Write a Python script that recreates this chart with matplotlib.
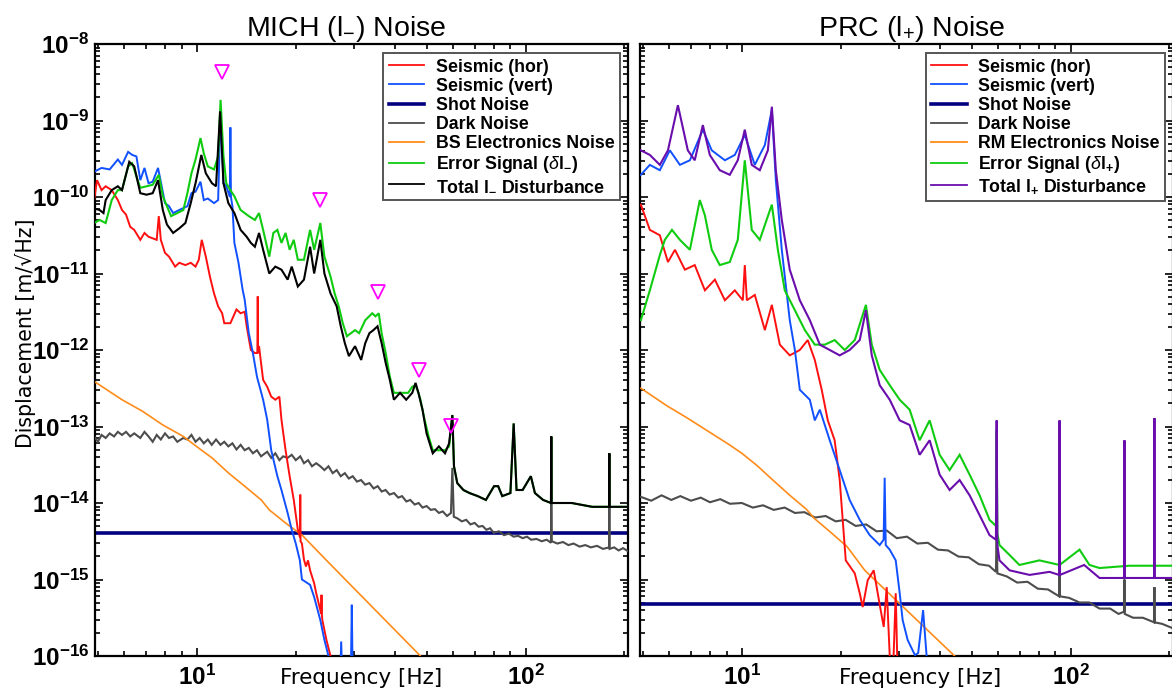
import numpy as np
import matplotlib
matplotlib.use("Agg")
import matplotlib.pyplot as plt
from matplotlib.lines import Line2D
from matplotlib.ticker import LogLocator, NullFormatter, FixedLocator, FixedFormatter

plt.rcParams['mathtext.fontset'] = 'custom'
plt.rcParams['mathtext.rm'] = 'Liberation Sans'
plt.rcParams['mathtext.bf'] = 'Liberation Sans:bold'
plt.rcParams['mathtext.it'] = 'Liberation Sans:italic'

# ---------------- data: (frequency [Hz], log10 displacement [m/rtHz]) ----------------
XLIM = (4.9, 205.0)
YLIM = (1e-16, 1e-8)
YTICK_EXP = [-16, -15, -14, -13, -12, -11, -10, -9, -8]
XTICK_VALS = [10, 100]
XTICK_LABELS = [r'$\mathbf{10^{1}}$', r'$\mathbf{10^{2}}$']

# ---- MICH panel ----
L_HOR = [(4.87, -10.04), (4.97, -9.78), (5.13, -9.91), (5.28, -9.86), (5.51, -9.91), (5.75, -10.04),
         (5.92, -10.17), (6.09, -10.23), (6.27, -10.39), (6.45, -10.43), (6.73, -10.56), (6.93, -10.47),
         (7.13, -10.52), (7.34, -10.54), (7.55, -10.56), (7.66, -10.25), (7.77, -10.56), (8.00, -10.73),
         (8.23, -10.78), (8.59, -10.91), (8.84, -10.86), (9.23, -10.89), (9.58, -10.86), (9.91, -10.91),
         (10.14, -10.82), (10.35, -10.56), (10.65, -10.78), (10.96, -11.04), (11.28, -11.26), (11.61, -11.43),
         (11.94, -11.52), (12.12, -11.65), (12.65, -11.65), (13.20, -11.47), (13.59, -11.52), (13.98, -11.50),
         (14.18, -11.69), (14.60, -12.00), (15.02, -12.04), (15.28, -12.04), (15.32, -11.30), (15.36, -12.04),
         (15.46, -11.95), (15.91, -12.39), (16.37, -12.48), (16.84, -12.61), (17.33, -12.65), (17.83, -12.61),
         (18.09, -12.91), (18.62, -13.31), (19.16, -13.65), (19.72, -13.96), (20.29, -14.35), (20.60, -14.45),
         (20.64, -13.89), (20.68, -14.50), (20.88, -14.53), (21.18, -14.74), (21.48, -14.83), (21.79, -14.75),
         (22.11, -14.88), (22.75, -15.05), (23.08, -15.18), (23.90, -15.45), (23.95, -15.20), (24.00, -15.45),
         (24.09, -15.53), (24.79, -15.79), (25.51, -16.0), (25.80, -16.3)]

L_VERT = [(4.87, -9.67), (5.13, -9.62), (5.43, -9.64), (5.75, -9.51), (5.92, -9.58), (6.18, -9.41),
          (6.36, -9.45), (6.55, -9.47), (6.73, -9.78), (6.93, -9.62), (7.13, -9.82), (7.34, -9.80),
          (7.62, -9.62), (7.77, -9.80), (8.00, -10.08), (8.23, -10.12), (8.47, -10.21), (8.84, -10.17),
          (9.36, -10.12), (9.63, -9.95), (9.91, -9.93), (10.26, -9.80), (10.50, -10.04), (10.80, -10.02),
          (11.28, -10.08), (11.61, -10.04), (11.81, -8.87), (12.05, -9.82), (12.29, -9.86), (12.60, -10.0),
          (12.65, -9.09), (12.70, -10.0), (12.83, -10.12), (13.01, -10.60), (13.39, -10.86), (13.78, -11.21),
          (13.98, -11.34), (14.39, -11.78), (14.81, -12.04), (15.24, -12.35), (15.91, -12.65), (16.37, -12.91),
          (16.84, -13.31), (17.58, -13.65), (18.09, -13.83), (18.89, -14.13), (19.44, -14.35), (20.00, -14.53),
          (20.58, -14.75), (20.88, -15.0), (22.11, -15.07), (22.75, -15.23), (23.75, -15.53), (24.44, -15.79),
          (25.15, -16.0), (25.51, -16.3), (27.3, -16.3), (27.49, -15.81), (27.7, -16.3), (29.4, -16.3),
          (29.61, -15.33), (29.8, -16.3)]

L_SHOT = 4.0e-15

L_DARK = [(4.87, -13.13), (5.0, -13.20), (5.13, -13.11), (5.28, -13.15), (5.43, -13.09), (5.6, -13.13),
          (5.75, -13.07), (5.92, -13.11), (6.09, -13.07), (6.27, -13.13), (6.45, -13.09), (6.73, -13.15),
          (6.93, -13.07), (7.13, -13.13), (7.34, -13.20), (7.55, -13.11), (7.77, -13.17), (8.00, -13.09),
          (8.23, -13.15), (8.47, -13.13), (8.72, -13.20), (9.10, -13.15), (9.36, -13.17), (9.63, -13.11),
          (9.91, -13.20), (10.2, -13.15), (10.5, -13.22), (10.8, -13.17), (11.1, -13.24), (11.44, -13.17),
          (11.8, -13.24), (12.12, -13.20), (12.47, -13.26), (12.83, -13.22), (13.2, -13.30), (13.59, -13.24),
          (13.98, -13.31), (14.39, -13.28), (14.81, -13.35), (15.24, -13.31), (15.68, -13.39), (16.37, -13.33),
          (16.84, -13.41), (17.33, -13.35), (17.83, -13.44), (18.3, -13.39), (18.89, -13.41), (19.44, -13.37),
          (20.0, -13.44), (20.64, -13.39), (21.18, -13.48), (21.8, -13.44), (22.4, -13.52), (23.08, -13.48),
          (23.75, -13.52), (24.44, -13.57), (25.15, -13.52), (25.9, -13.61), (26.64, -13.57), (27.4, -13.65),
          (28.2, -13.61), (29.0, -13.68), (29.8, -13.65), (30.7, -13.72), (31.6, -13.70), (32.5, -13.76),
          (33.5, -13.74), (34.5, -13.81), (35.5, -13.78), (36.5, -13.85), (37.5, -13.83), (38.6, -13.89),
          (39.8, -13.87), (41.0, -13.93), (42.1, -13.91), (43.4, -13.98), (44.6, -13.96), (46.0, -14.02),
          (47.3, -14.00), (48.6, -14.06), (50.0, -14.04), (51.5, -14.09), (53.0, -14.08), (54.5, -14.13),
          (56.0, -14.11), (57.7, -14.17), (59.3, -14.13), (59.9, -13.54), (60.5, -14.18), (62.0, -14.20),
          (64.0, -14.24), (66.0, -14.22), (68.0, -14.28), (70.0, -14.26), (72.0, -14.31), (74.0, -14.30),
          (76.0, -14.35), (78.0, -14.33), (80.0, -14.39), (83.0, -14.37), (86.0, -14.42), (89.0, -14.40),
          (92.0, -14.44), (95.0, -14.43), (98.0, -14.46), (101, -14.44), (104, -14.48), (108, -14.47),
          (112, -14.50), (116, -14.48), (119.5, -14.52), (119.8, -14.0), (120.2, -14.50), (125, -14.53),
          (130, -14.51), (135, -14.55), (140, -14.53), (146, -14.57), (152, -14.55), (158, -14.58),
          (165, -14.56), (172, -14.60), (179.5, -14.58), (179.9, -14.05), (180.3, -14.60), (186, -14.58),
          (192, -14.62), (198, -14.59), (205, -14.63)]

L_ELEC = [(4.87, -12.41), (5.92, -12.65), (6.83, -12.80), (7.88, -12.98), (9.10, -13.13), (9.97, -13.26),
          (11.12, -13.41), (12.5, -13.61), (13.98, -13.78), (15.7, -13.96), (16.61, -14.09), (18.6, -14.26),
          (20.9, -14.42), (24.8, -14.75), (47.9, -16.0), (52.0, -16.2)]

L_ERR = [(4.87, -10.34), (5.06, -10.30), (5.28, -10.34), (5.51, -10.04), (5.75, -9.91), (5.92, -9.91),
         (6.18, -9.60), (6.36, -9.56), (6.55, -9.73), (6.73, -9.88), (7.03, -9.86), (7.34, -9.84),
         (7.66, -9.71), (7.88, -9.99), (8.11, -10.12), (8.35, -10.25), (8.72, -10.21), (9.10, -10.17),
         (9.36, -9.95), (9.63, -9.69), (9.91, -9.51), (10.26, -9.23), (10.50, -9.43), (10.80, -9.60),
         (11.28, -9.64), (11.61, -9.47), (11.81, -8.73), (12.05, -9.47), (12.29, -9.82), (12.65, -9.91),
         (13.01, -9.99), (13.59, -10.17), (14.39, -10.25), (15.02, -10.30), (15.46, -10.21), (15.91, -10.43),
         (16.61, -10.78), (17.09, -10.47), (17.58, -10.43), (18.09, -10.60), (18.62, -10.47), (19.16, -10.69),
         (19.72, -10.56), (20.29, -10.82), (21.18, -10.82), (22.11, -10.43), (22.75, -10.69), (23.75, -10.34),
         (24.44, -10.78), (25.51, -11.04), (26.26, -11.26), (27.02, -11.43), (27.80, -11.65), (28.61, -11.82),
         (29.44, -11.78), (30.29, -11.74), (31.18, -11.78), (32.54, -11.61), (34.17, -11.52), (34.96, -11.56),
         (35.77, -11.52), (36.49, -11.78), (37.55, -12.04), (38.65, -12.35), (39.77, -12.56), (40.93, -12.56),
         (42.12, -12.56), (43.95, -12.56), (45.23, -12.48), (46.28, -12.46), (47.22, -12.56), (47.90, -12.65),
         (49.29, -12.91), (50.72, -13.13), (52.21, -13.31), (54.50, -13.31), (56.89, -13.31), (58.54, -13.26),
         (59.90, -12.85), (60.58, -13.52), (61.99, -13.74), (64.71, -13.83), (67.55, -13.87), (71.54, -13.91),
         (75.76, -13.96), (80.22, -13.78), (82.55, -13.78), (84.95, -13.91), (89.95, -13.87), (92.03, -12.96),
         (93.89, -13.83), (98.0, -13.83), (103.8, -13.65), (106.8, -13.87), (113.1, -13.96), (119.5, -14.0),
         (119.8, -13.13), (120.1, -14.0), (123.3, -14.00), (138.2, -14.00), (159.5, -14.05), (179.6, -14.05),
         (179.9, -13.35), (180.2, -14.05), (184.1, -14.05), (205.0, -14.05)]

L_TOT = [(4.87, -10.15), (5.06, -10.17), (5.20, -10.21), (5.28, -10.04), (5.51, -9.91), (5.75, -9.86),
         (5.92, -9.91), (6.23, -9.54), (6.45, -9.60), (6.73, -9.95), (7.03, -9.97), (7.34, -9.95),
         (7.62, -9.78), (7.88, -10.17), (8.11, -10.36), (8.47, -10.47), (8.84, -10.41), (9.23, -10.34),
         (9.58, -10.08), (9.91, -9.82), (10.32, -9.45), (10.65, -9.69), (11.12, -9.82), (11.44, -9.86),
         (11.77, -8.88), (12.05, -9.82), (12.47, -10.08), (13.01, -10.21), (13.59, -10.43), (14.18, -10.52),
         (14.60, -10.60), (15.02, -10.65), (15.46, -10.47), (15.91, -10.69), (16.61, -11.00), (17.33, -10.91),
         (18.09, -10.95), (18.89, -11.08), (19.44, -10.91), (20.29, -11.17), (21.18, -11.08), (22.11, -10.65),
         (22.75, -11.00), (23.75, -10.56), (24.44, -11.00), (25.51, -11.26), (26.64, -11.43), (27.41, -11.69),
         (28.20, -11.91), (29.02, -12.08), (30.29, -11.95), (31.62, -12.13), (32.54, -11.91), (33.50, -11.78),
         (34.46, -11.74), (35.46, -11.69), (36.49, -11.91), (37.55, -12.17), (38.65, -12.39), (39.77, -12.65),
         (41.52, -12.56), (43.35, -12.65), (45.23, -12.56), (46.28, -12.43), (47.22, -12.56), (48.59, -12.78),
         (50.0, -13.09), (52.21, -13.35), (54.50, -13.26), (56.89, -13.35), (58.54, -13.22), (59.90, -12.85),
         (60.58, -13.52), (61.99, -13.74), (64.71, -13.83), (67.55, -13.87), (71.54, -13.91), (75.76, -13.96),
         (80.22, -13.78), (82.55, -13.78), (84.95, -13.91), (89.95, -13.87), (92.03, -12.96), (93.89, -13.83),
         (98.0, -13.83), (103.8, -13.65), (106.8, -13.87), (113.1, -13.96), (119.5, -14.0), (119.8, -13.13),
         (120.1, -14.0), (123.3, -14.00), (138.2, -14.00), (159.5, -14.05), (179.6, -14.05), (179.9, -13.35),
         (180.2, -14.05), (184.1, -14.05), (205.0, -14.05)]

L_MARK_F = [11.9, 23.7, 35.6, 47.5, 59.4]
L_MARK_V = [4.3e-9, 9.1e-11, 5.7e-12, 5.5e-13, 1.02e-13]

# ---- PRC panel ----
R_HOR = [(4.93, -10.10), (5.25, -10.43), (5.63, -10.50), (5.96, -10.85), (6.26, -10.69), (6.71, -10.95),
         (7.19, -10.89), (7.72, -11.22), (8.28, -11.08), (8.88, -11.35), (9.52, -11.22), (10.07, -11.35),
         (10.21, -10.89), (10.36, -11.35), (10.95, -11.28), (11.75, -11.74), (12.34, -11.41), (13.05, -11.93),
         (13.99, -12.07), (15.01, -12.00), (15.87, -11.87), (16.67, -12.13), (17.5, -12.52), (18.26, -12.92),
         (19.16, -13.18), (19.85, -13.70), (20.71, -14.75), (22.06, -14.92), (22.84, -15.18), (23.32, -15.36),
         (24.15, -15.01), (25.19, -14.88), (26.45, -15.40), (27.02, -15.62), (27.59, -15.10), (28.18, -16.0),
         (28.8, -16.3), (29.39, -15.18), (29.8, -16.3)]

R_VERT = [(4.93, -9.71), (5.25, -9.58), (5.63, -9.65), (6.04, -9.39), (6.48, -9.58), (6.95, -9.52),
          (7.61, -9.12), (8.1, -9.39), (8.88, -9.52), (9.52, -9.45), (10.21, -9.19), (10.95, -9.58),
          (11.75, -9.32), (12.34, -8.86), (12.69, -9.78), (13.23, -10.69), (13.99, -11.61), (14.5, -12.00),
          (15.01, -12.52), (16.1, -12.65), (16.67, -12.92), (17.27, -12.78), (18.51, -13.18), (19.85, -13.57),
          (21.28, -13.96), (22.84, -14.22), (24.49, -14.42), (26.27, -14.55), (27.0, -14.48), (27.2, -13.67),
          (27.4, -14.55), (28.18, -14.61), (29.39, -14.75), (30.22, -15.18), (30.85, -15.53), (31.95, -15.79),
          (33.63, -15.99), (34.4, -15.96), (35.6, -15.40), (36.49, -16.0), (37.0, -16.3)]

R_SHOT = 4.8e-16

R_DARK = [(4.93, -13.92), (5.3, -13.97), (5.7, -13.90), (6.1, -13.96), (6.5, -13.91), (7.0, -13.97),
          (7.5, -13.93), (8.0, -13.99), (8.6, -13.95), (9.2, -14.01), (10.0, -14.00), (10.8, -14.06),
          (11.6, -14.03), (12.5, -14.09), (13.5, -14.06), (14.5, -14.13), (15.5, -14.12), (16.7, -14.19),
          (18.0, -14.17), (19.3, -14.24), (20.7, -14.22), (22.2, -14.30), (23.9, -14.28), (25.7, -14.37),
          (27.6, -14.36), (29.6, -14.46), (31.8, -14.44), (34.2, -14.53), (36.8, -14.52), (39.5, -14.61),
          (42.4, -14.62), (45.6, -14.70), (49.0, -14.71), (52.6, -14.80), (56.5, -14.82), (59.3, -14.90),
          (59.6, -14.35), (59.9, -14.92), (64.0, -14.96), (68.8, -15.04), (74.0, -15.03), (79.5, -15.12),
          (85.4, -15.13), (92.3, -15.22), (92.6, -14.75), (92.9, -15.22), (99.0, -15.24), (106.5, -15.30),
          (114.0, -15.30), (122.5, -15.38), (132, -15.38), (140, -15.45), (145.6, -15.42), (145.9, -15.0),
          (146.2, -15.45), (155, -15.50), (166, -15.50), (179.7, -15.56), (180.0, -15.1), (180.3, -15.56),
          (190, -15.58), (202.8, -15.63)]

R_ELEC = [(4.93, -12.50), (5.92, -12.73), (6.83, -12.89), (7.88, -13.06), (9.1, -13.23), (10.0, -13.35),
          (11.12, -13.51), (12.5, -13.71), (14.0, -13.90), (15.7, -14.08), (16.6, -14.20), (18.6, -14.38),
          (20.9, -14.57), (23.66, -14.88), (44.4, -16.0), (48.0, -16.2)]

R_ERR = [(4.93, -11.61), (5.25, -11.22), (5.63, -10.76), (5.83, -10.56), (6.13, -10.43), (6.48, -10.56),
         (6.95, -10.69), (7.45, -10.04), (7.72, -10.24), (8.1, -10.69), (8.57, -10.89), (9.19, -10.85),
         (9.72, -10.56), (10.21, -9.52), (10.72, -10.43), (11.34, -10.56), (12.34, -10.10), (12.87, -10.69),
         (13.51, -11.22), (14.5, -11.48), (15.55, -11.74), (16.67, -11.93), (17.89, -11.93), (19.16, -11.87),
         (20.56, -12.00), (22.06, -11.87), (23.85, -11.41), (24.85, -11.93), (26.27, -12.26), (28.18, -12.46),
         (30.22, -12.65), (32.4, -12.78), (34.75, -13.18), (37.27, -12.92), (39.98, -13.37), (42.87, -13.57),
         (45.98, -13.37), (49.32, -13.63), (52.9, -13.90), (56.7, -14.22), (59.3, -14.30), (59.6, -13.05),
         (59.9, -14.40), (60.8, -14.55), (65.25, -14.68), (69.9, -14.81), (80.4, -14.75), (92.6, -14.81),
         (106.5, -14.61), (114.2, -14.81), (122.5, -14.85), (151.0, -14.82), (202.8, -14.82)]

R_TOT = [(4.93, -9.39), (5.25, -9.45), (5.63, -9.58), (5.96, -9.39), (6.39, -8.80), (6.85, -9.39),
         (7.19, -9.52), (7.61, -9.06), (7.99, -9.45), (8.57, -9.65), (9.19, -9.71), (9.72, -9.52),
         (10.21, -9.12), (10.72, -9.58), (11.34, -9.65), (12.0, -9.39), (12.34, -8.82), (12.69, -9.65),
         (13.23, -10.30), (13.99, -10.95), (15.01, -11.35), (16.1, -11.61), (17.27, -11.93), (18.51, -12.00),
         (19.85, -12.07), (21.28, -12.00), (22.84, -11.87), (23.85, -11.48), (24.85, -12.07), (26.27, -12.46),
         (28.18, -12.65), (30.22, -12.92), (32.4, -12.98), (34.75, -13.37), (37.27, -13.18), (39.98, -13.63),
         (42.87, -13.83), (45.98, -13.70), (49.32, -13.90), (52.9, -14.16), (56.7, -14.42), (59.3, -14.48),
         (59.6, -12.92), (59.9, -14.55), (60.8, -14.75), (65.25, -14.88), (75.07, -14.94), (86.3, -14.90),
         (92.3, -14.94), (92.6, -12.92), (92.9, -14.94), (110.0, -14.81), (122.5, -14.98), (145.6, -14.98),
         (145.9, -13.18), (146.2, -14.98), (179.7, -14.98), (180.0, -12.89), (180.3, -14.98), (202.8, -14.98)]

LEFT_LABELS = ['Seismic (hor)', 'Seismic (vert)', 'Shot Noise', 'Dark Noise', 'BS Electronics Noise',
               r'Error Signal ($\delta$l$_{\mathbf{-}}$)', r'Total l$_{\mathbf{-}}$ Disturbance']
RIGHT_LABELS = ['Seismic (hor)', 'Seismic (vert)', 'Shot Noise', 'Dark Noise', 'RM Electronics Noise',
                r'Error Signal ($\delta$l$_{\mathbf{+}}$)', r'Total l$_{\mathbf{+}}$ Disturbance']

C_HOR = '#ff1010'
C_VERT = '#1050ff'
C_SHOT = '#000080'
C_DARK = '#4d4d4d'
C_ELEC = '#ff8c1a'
C_ERR = '#10cc10'
C_TOTL = '#000000'
C_TOTR = '#6a0dad'
C_MARK = '#ff00ff'

W, H = 1172, 693
fig = plt.figure(figsize=(W / 100, H / 100), dpi=100)
axL = fig.add_axes([95 / W, 37 / H, 533 / W, 612 / H])
axR = fig.add_axes([640 / W, 37 / H, 533 / W, 612 / H])


def curve(ax, pairs, color, lw=1.2, zorder=2):
    arr = np.array(pairs, dtype=float)
    ax.plot(arr[:, 0], 10.0 ** arr[:, 1], color=color, lw=lw, zorder=zorder, solid_joinstyle='miter')


def panel(ax, hor, vert, shot, dark, elec, err, tot, tot_color, labels, title, title_x, xlabel_x, ylabels):
    ax.axhline(shot, color=C_SHOT, lw=2.6, zorder=2)
    curve(ax, dark, C_DARK, lw=1.5, zorder=3)
    curve(ax, elec, C_ELEC, lw=1.2, zorder=3)
    curve(ax, hor, C_HOR, lw=1.4, zorder=4)
    curve(ax, vert, C_VERT, lw=1.4, zorder=4)
    curve(ax, err, C_ERR, lw=1.5, zorder=5)
    curve(ax, tot, tot_color, lw=1.5, zorder=6)
    ax.set_xscale('log')
    ax.set_yscale('log')
    ax.set_xlim(*XLIM)
    ax.set_ylim(*YLIM)
    ax.xaxis.set_major_locator(FixedLocator(XTICK_VALS))
    ax.xaxis.set_major_formatter(FixedFormatter(XTICK_LABELS))
    ax.xaxis.set_minor_locator(LogLocator(base=10, subs=np.arange(2, 10)))
    ax.xaxis.set_minor_formatter(NullFormatter())
    ax.yaxis.set_major_locator(FixedLocator([10.0 ** e for e in YTICK_EXP]))
    if ylabels:
        ax.yaxis.set_major_formatter(FixedFormatter([r'$\mathbf{10^{%d}}$' % e for e in YTICK_EXP]))
    else:
        ax.yaxis.set_major_formatter(NullFormatter())
    ax.yaxis.set_minor_locator(LogLocator(base=10, subs=np.arange(2, 10), numticks=20))
    ax.yaxis.set_minor_formatter(NullFormatter())
    ax.tick_params(which='both', direction='in', top=True, right=True, width=1.2, labelsize=17.5, colors='black')
    ax.tick_params(which='major', length=6)
    ax.tick_params(which='minor', length=3.5)
    ax.tick_params(axis='y', pad=4)
    ax.tick_params(axis='x', pad=6)
    for sp in ax.spines.values():
        sp.set_linewidth(1.6)
    ax.set_title(title, fontsize=20.5, family=['Liberation Sans', 'DejaVu Sans'], x=title_x, pad=6)
    ax.set_xlabel('Frequency [Hz]', fontsize=15.5, family='DejaVu Sans')
    ax.xaxis.set_label_coords(xlabel_x, -0.036)
    ax.xaxis.label.set_va('center')
    handles = [Line2D([], [], color=C_HOR, lw=1.3), Line2D([], [], color=C_VERT, lw=1.3),
               Line2D([], [], color=C_SHOT, lw=2.6), Line2D([], [], color=C_DARK, lw=1.3),
               Line2D([], [], color=C_ELEC, lw=1.3), Line2D([], [], color=C_ERR, lw=1.3),
               Line2D([], [], color=tot_color, lw=1.3)]
    leg = ax.legend(handles, labels, loc='upper right', bbox_to_anchor=(0.985, 0.985),
                    prop={'family': 'Liberation Sans', 'weight': 'bold', 'size': 12.8},
                    frameon=True, fancybox=False, framealpha=1, edgecolor='#555555',
                    borderpad=0.3, labelspacing=0.12, handlelength=2.0, handletextpad=0.65,
                    borderaxespad=0)
    leg.get_frame().set_linewidth(1.4)
    leg.set_zorder(10)


panel(axL, L_HOR, L_VERT, L_SHOT, L_DARK, L_ELEC, L_ERR, L_TOT, C_TOTL, LEFT_LABELS,
      r'MICH (l$_{-}$) Noise', 0.471, 0.5, True)
axL.plot(L_MARK_F, L_MARK_V, linestyle='none', marker='v', markersize=9.5, markerfacecolor='none',
         markeredgecolor=C_MARK, markeredgewidth=1.3, zorder=7)
axL.set_ylabel('Displacement [m/\u221aHz]', fontsize=14.8, family='DejaVu Sans')
axL.yaxis.set_label_coords(-0.131, 0.528)
axL.yaxis.label.set_va('center')

panel(axR, R_HOR, R_VERT, R_SHOT, R_DARK, R_ELEC, R_ERR, R_TOT, C_TOTR, RIGHT_LABELS,
      r'PRC (l$_{+}$) Noise', 0.51, 0.525, False)

fig.savefig('out.png', dpi=100)
